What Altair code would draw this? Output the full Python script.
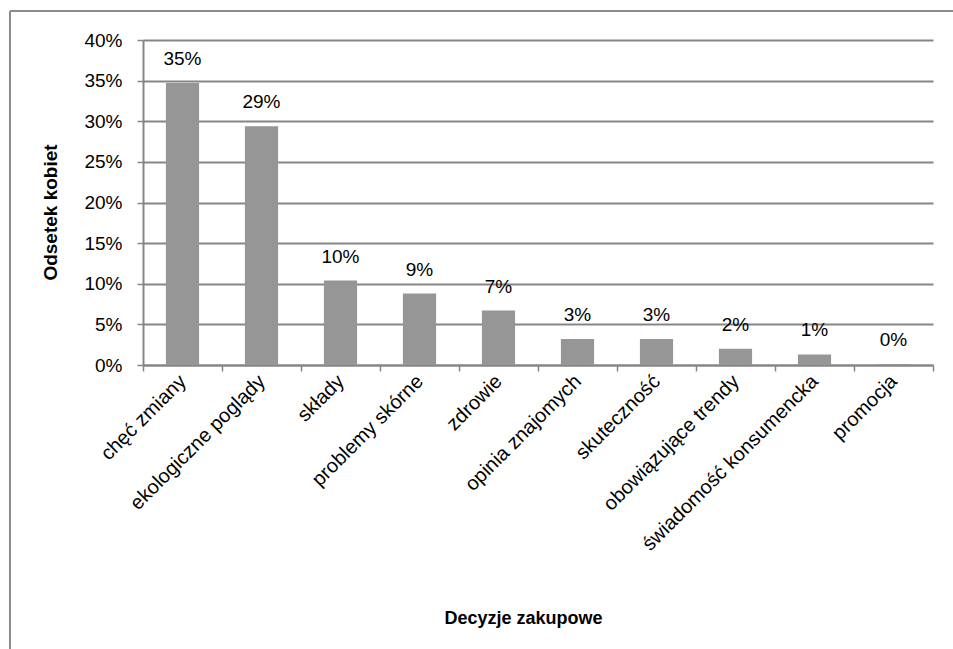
import altair as alt
import pandas as pd

categories = ["chęć zmiany", "ekologiczne poglądy", "składy", "problemy skórne", "zdrowie",
              "opinia znajomych", "skuteczność", "obowiązujące trendy",
              "świadomość konsumencka", "promocja"]
values = [0.347, 0.294, 0.104, 0.088, 0.067, 0.032, 0.032, 0.020, 0.013, 0.001]
y_ticks = [0, 0.05, 0.10, 0.15, 0.20, 0.25, 0.30, 0.35, 0.40]

df = pd.DataFrame({"kat": categories, "val": values})

FONT = "Liberation Sans"
GRAY = "#868686"

x_enc = alt.X("kat:N", sort=categories,
              scale=alt.Scale(paddingInner=0, paddingOuter=0),
              axis=alt.Axis(title="Decyzje zakupowe", labelAngle=-45, labelAlign="right",
                            labelBaseline="middle", labelFontSize=20, labelPadding=7,
                            labelLimit=500, labelOverlap=False,
                            labelColor="#000", labelFont=FONT, tickBand="extent",
                            tickColor=GRAY, tickSize=6, tickWidth=1.5,
                            domainColor=GRAY, domainWidth=2, grid=False,
                            titleFont=FONT, titleFontSize=18, titleFontWeight="bold",
                            titleColor="#000", titleX=380, titleY=253,
                            titleAlign="center", titleBaseline="middle"))
y_enc = alt.Y("val:Q", scale=alt.Scale(domain=[0, 0.4]),
              axis=alt.Axis(title="Odsetek kobiet", values=y_ticks, format=".0%",
                            labelFontSize=19, labelFont=FONT, labelColor="#000",
                            labelPadding=15, tickColor=GRAY, tickSize=6, tickWidth=1.5,
                            domainColor=GRAY, domainWidth=2, gridColor=GRAY, gridWidth=2,
                            titleFont=FONT, titleFontSize=19, titleFontWeight="bold",
                            titleColor="#000", titleAngle=-90, titleX=-93, titleY=172,
                            titleAlign="center", titleBaseline="middle"))

bars = alt.Chart(df).mark_bar(color="#969696", width=alt.RelativeBandSize(0.42)).encode(
    x=x_enc, y=y_enc)

labels = alt.Chart(df).mark_text(font=FONT, fontSize=19, color="#000",
                                 baseline="middle", dy=-24).encode(
    x=alt.X("kat:N", sort=categories), y="val:Q",
    text=alt.Text("val:Q", format=".0%"))

frame_data = alt.Data(values=[{"a": 1}])
top_rule = alt.Chart(frame_data).mark_rule(color="#8c8c8c", strokeWidth=2).encode(
    x=alt.value(-133), x2=alt.value(815), y=alt.value(-29))
left_rule = alt.Chart(frame_data).mark_rule(color="#8c8c8c", strokeWidth=2).encode(
    x=alt.value(-133), y=alt.value(-29), y2=alt.value(615))

chart = alt.layer(bars, labels, top_rule, left_rule).properties(
    width=790, height=325,
    autosize=alt.AutoSizeParams(type="none"),
    padding={"left": 143, "top": 40, "right": 20, "bottom": 284},
    background="white",
).configure_view(stroke=None)

chart.save("out.html", embed_options={"renderer": "svg", "actions": False})
